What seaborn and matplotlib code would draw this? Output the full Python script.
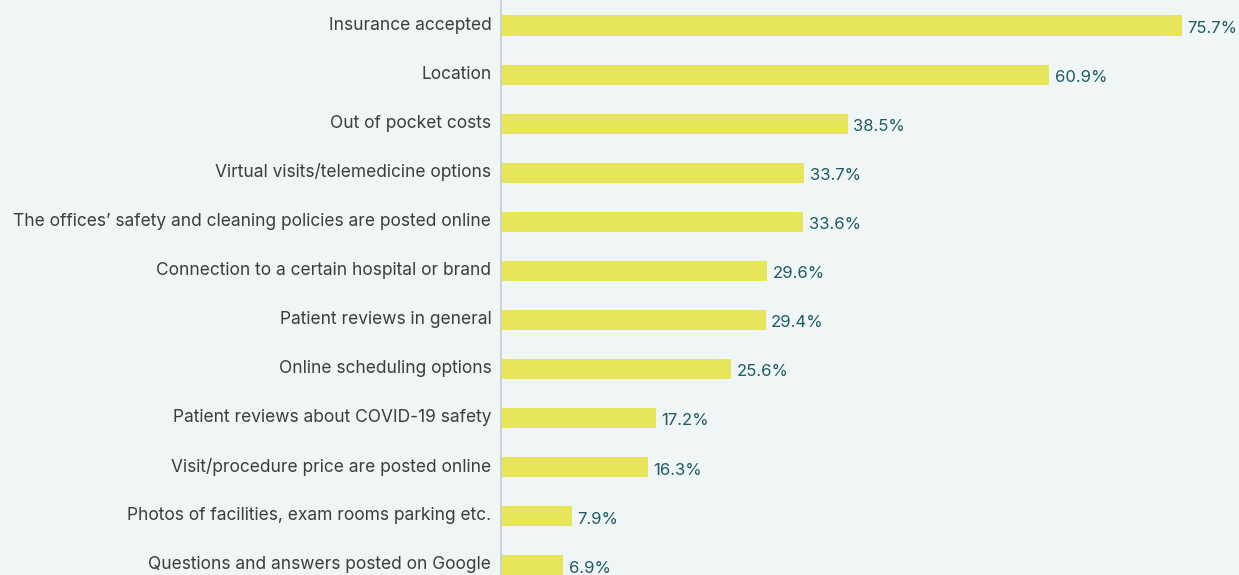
import matplotlib
matplotlib.use("Agg")
import matplotlib.pyplot as plt
import matplotlib.transforms as mtransforms
import seaborn as sns
import pandas as pd

categories = [
    "Insurance accepted",
    "Location",
    "Out of pocket costs",
    "Virtual visits/telemedicine options",
    "The offices\u2019 safety and cleaning policies are posted online",
    "Connection to a certain hospital or brand",
    "Patient reviews in general",
    "Online scheduling options",
    "Patient reviews about COVID-19 safety",
    "Visit/procedure price are posted online",
    "Photos of facilities, exam rooms parking etc.",
    "Questions and answers posted on Google",
]
values = [75.7, 60.9, 38.5, 33.7, 33.6, 29.6, 29.4, 25.6, 17.2, 16.3, 7.9, 6.9]
value_labels = ["75.7%", "60.9%", "38.5%", "33.7%", "33.6%", "29.6%", "29.4%",
                "25.6%", "17.2%", "16.3%", "7.9%", "6.9%"]

df = pd.DataFrame({"category": categories, "value": values})

bg = "#eff6f5"
sns.set_theme(style="white")
plt.rcParams["font.family"] = ["Inter", "DejaVu Sans"]

fig = plt.figure(figsize=(12.39, 5.75), dpi=100, facecolor=bg)
ax = fig.add_axes([501 / 1239, 0, 1 - 501 / 1239, 1])
ax.set_facecolor(bg)

sns.barplot(data=df, x="value", y="category", color="#e7e65a", saturation=1,
            width=0.41, ax=ax, orient="h", linewidth=0, edgecolor="none")

for i, (v, lab) in enumerate(zip(values, value_labels)):
    ax.text(v + 0.6, i + 0.06, lab, va="center", ha="left", fontsize=12,
            color="#1e5a66")

ax.set_xlim(0, (1239 - 501) / 9.0)
ax.set_ylim(11.2, -0.52)
ax.set_xlabel("")
ax.set_ylabel("")
ax.set_xticks([])
ax.tick_params(axis="y", length=0, pad=7, labelsize=12.5, labelcolor="#3d3d3d")
offset = mtransforms.ScaledTranslation(0, 2.5 / 100, fig.dpi_scale_trans)
for lbl in ax.get_yticklabels():
    lbl.set_transform(lbl.get_transform() + offset)
for s in ["top", "right", "bottom"]:
    ax.spines[s].set_visible(False)
ax.spines["left"].set_color("#c5cccf")
ax.spines["left"].set_linewidth(1.2)

fig.savefig("out.png", dpi=100, facecolor=bg)
